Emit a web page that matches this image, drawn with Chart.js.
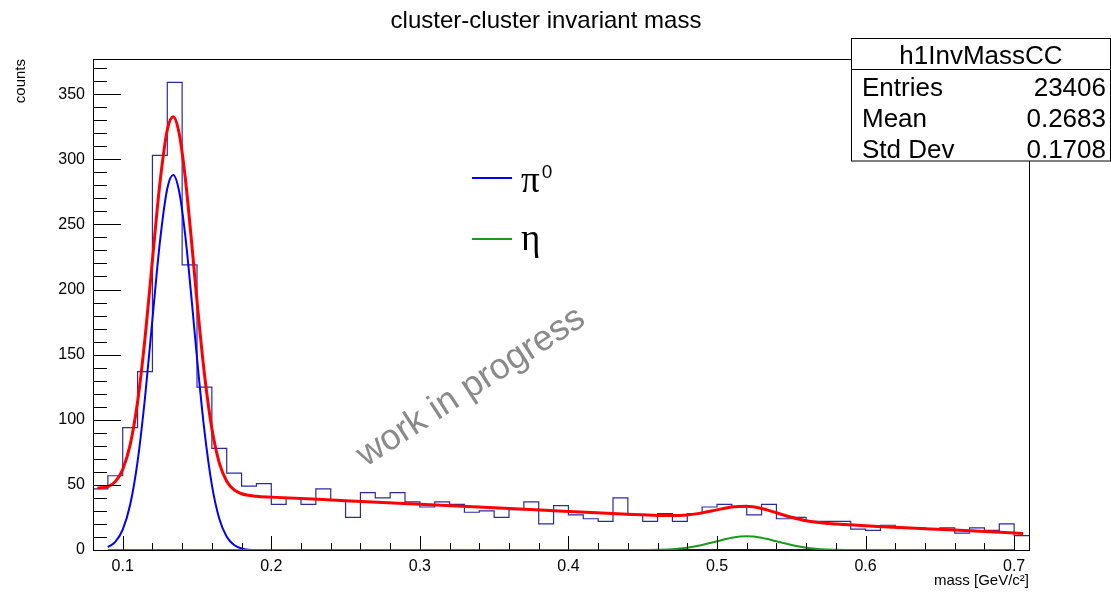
<!DOCTYPE html>
<html>
<head>
<meta charset="utf-8">
<script src="https://cdn.jsdelivr.net/npm/chart.js@4/dist/chart.umd.min.js"></script>
<style>
  html, body { margin: 0; padding: 0; background: #fff; }
  #wrap { position: relative; width: 1111px; height: 597px; }
  canvas { display: block; background: #fff; }
</style>
</head>
<body>
<div id="wrap"><canvas id="chartInvMass" width="1111" height="597"></canvas></div>
<script>
// histograma h1InvMassCC (bins de 0.01 desde 0.08)
const binLow = 0.08;
const binWidth = 0.01;
const binCounts = [
  47, 57, 94, 137, 303, 359, 219, 125, 78, 59,
  49, 51, 35, 40, 35, 47, 38, 25, 44, 40,
  44, 37, 33, 37, 35, 29, 30, 25, 31, 37,
  20, 34, 27, 24, 22, 40, 27, 22, 28, 22,
  28, 33, 35, 33, 27, 35, 24, 25, 22, 22,
  22, 16, 15, 19, 17, 17, 16, 17, 13, 17,
  15, 20, 11,
];

// ajuste total (rojo)
const totalX = [0.083, 0.09, 0.095, 0.1, 0.105, 0.11, 0.115, 0.12, 0.125, 0.13, 0.134, 0.138, 0.142, 0.146, 0.15, 0.155, 0.16, 0.165, 0.17, 0.175, 0.18, 0.19, 0.2, 0.25, 0.3, 0.35, 0.4, 0.44, 0.46, 0.47, 0.48, 0.49, 0.5, 0.51, 0.52, 0.53, 0.54, 0.55, 0.56, 0.57, 0.58, 0.62, 0.66, 0.706];
const totalY = [47.7, 48.7, 52.5, 61.8, 80.7, 113.7, 162.5, 222.5, 281.3, 322.5, 332.7, 319.8, 286.8, 241, 191.2, 135.1, 93.2, 66.9, 52.8, 46.1, 43.2, 41.3, 40.6, 37.9, 35.1, 32.4, 29.6, 27.4, 26.5, 26.4, 26.9, 28.5, 30.8, 33.0, 33.5, 31.9, 28.6, 25.2, 22.5, 20.9, 19.9, 17.5, 15.3, 12.7];

// pi0 (azul)
const pi0X = [0.09, 0.095, 0.1, 0.105, 0.11, 0.115, 0.12, 0.125, 0.13, 0.134, 0.138, 0.142, 0.146, 0.15, 0.155, 0.16, 0.165, 0.17, 0.175, 0.18, 0.19, 0.58];
const pi0Y = [2.2, 6.2, 15.6, 34.7, 67.9, 116.9, 177.1, 236.2, 277.6, 288, 275.3, 242.5, 197, 147.4, 91.6, 50, 24, 10.2, 3.8, 1.2, 0, 0];

// eta (verde)
const etaX = [0.09, 0.45, 0.46, 0.47, 0.48, 0.49, 0.5, 0.51, 0.52, 0.53, 0.54, 0.55, 0.56, 0.57, 0.58, 0.59, 0.7];
const etaY = [0, 0, 0.2, 0.6, 1.7, 3.8, 6.7, 9.4, 10.5, 9.4, 6.7, 3.8, 1.7, 0.6, 0.2, 0, 0];

// ejes
const xMajorTicks = [0.1, 0.2, 0.3, 0.4, 0.5, 0.6, 0.7];
const xTickLabels = ["0.1", "0.2", "0.3", "0.4", "0.5", "0.6", "0.7"];
const xMinorTicks = [0.08, 0.12, 0.14, 0.16, 0.18, 0.22, 0.24, 0.26, 0.28, 0.32, 0.34, 0.36, 0.38, 0.42, 0.44, 0.46, 0.48, 0.52, 0.54, 0.56, 0.58, 0.62, 0.64, 0.66, 0.68];
const yMajorTicks = [0, 50, 100, 150, 200, 250, 300, 350];
const yTickLabels = ["0", "50", "100", "150", "200", "250", "300", "350"];
const yMinorTicks = [10, 20, 30, 40, 60, 70, 80, 90, 110, 120, 130, 140, 160, 170, 180, 190, 210, 220, 230, 240, 260, 270, 280, 290, 310, 320, 330, 340, 360, 370];

// caja de estadisticas
const statsTitle = "h1InvMassCC";
const statsNames = ["Entries", "Mean", "Std Dev"];
const statsValues = ["23406", "0.2683", "0.1708"];

const SANS = "'Liberation Sans', Arial, Helvetica, sans-serif";
const SERIF = "'Liberation Serif', 'Times New Roman', serif";

const toXY = (xs, ys) => xs.map((x, i) => ({ x: x, y: ys[i] }));

const histPoints = binCounts.map((c, i) => ({ x: binLow + i * binWidth, y: c }));
histPoints.push({ x: binLow + binCounts.length * binWidth, y: binCounts[binCounts.length - 1] });

const rootStyle = {
  id: "rootStyle",
  afterDatasetsDraw(chart) {
    const { ctx, chartArea: a, scales } = chart;
    const xs = scales.x, ys = scales.y;
    ctx.save();
    ctx.strokeStyle = "#000";
    ctx.lineWidth = 1;
    // marco
    ctx.strokeRect(Math.round(a.left) + 0.5, Math.round(a.top) + 0.5,
      Math.round(a.right - a.left), Math.round(a.bottom - a.top));
    // ticks hacia adentro
    ctx.beginPath();
    yMajorTicks.forEach((v) => {
      const py = Math.round(ys.getPixelForValue(v)) + 0.5;
      ctx.moveTo(a.left, py); ctx.lineTo(a.left + 28, py);
    });
    yMinorTicks.forEach((v) => {
      const py = Math.round(ys.getPixelForValue(v)) + 0.5;
      ctx.moveTo(a.left, py); ctx.lineTo(a.left + 14, py);
    });
    xMajorTicks.forEach((v) => {
      const px = Math.round(xs.getPixelForValue(v)) + 0.5;
      ctx.moveTo(px, a.bottom); ctx.lineTo(px, a.bottom - 14);
    });
    xMinorTicks.forEach((v) => {
      const px = Math.round(xs.getPixelForValue(v)) + 0.5;
      ctx.moveTo(px, a.bottom); ctx.lineTo(px, a.bottom - 7);
    });
    ctx.stroke();
    ctx.restore();
  },
  afterDraw(chart) {
    const { ctx } = chart;
    ctx.save();

    // titulo
    ctx.fillStyle = "#000";
    ctx.font = "24px " + SANS;
    ctx.textAlign = "center";
    ctx.textBaseline = "alphabetic";
    ctx.fillText("cluster-cluster invariant mass", 546, 28);

    // marca de agua
    ctx.save();
    ctx.translate(471, 387);
    ctx.rotate(-33 * Math.PI / 180);
    ctx.fillStyle = "#8a8a8a";
    ctx.font = "36px " + SANS;
    ctx.textAlign = "center";
    ctx.textBaseline = "middle";
    ctx.fillText("work in progress", 0, 0);
    ctx.restore();

    // leyenda
    ctx.lineWidth = 2;
    ctx.strokeStyle = "#0000ff";
    ctx.beginPath(); ctx.moveTo(472, 178); ctx.lineTo(512, 178); ctx.stroke();
    ctx.strokeStyle = "#1a9a1a";
    ctx.beginPath(); ctx.moveTo(472, 239); ctx.lineTo(512, 239); ctx.stroke();
    ctx.fillStyle = "#000";
    ctx.textAlign = "left";
    ctx.font = "37px " + SERIF;
    ctx.fillText("π", 521, 192);
    const piW = ctx.measureText("π").width;
    ctx.fillText("η", 521, 250);
    ctx.font = "19px " + SANS;
    ctx.fillText("0", 521 + piW + 2, 178);

    // caja stats
    ctx.fillStyle = "#fff";
    ctx.fillRect(851.5, 38.5, 259, 122.5);
    ctx.strokeStyle = "#000";
    ctx.lineWidth = 1;
    ctx.strokeRect(851.5, 38.5, 259, 122.5);
    ctx.beginPath(); ctx.moveTo(851.5, 69.5); ctx.lineTo(1110.5, 69.5); ctx.stroke();
    ctx.fillStyle = "#000";
    ctx.font = "26px " + SANS;
    ctx.textAlign = "center";
    ctx.fillText(statsTitle, 981, 64);
    const base = [96, 127, 158];
    statsNames.forEach((n, i) => {
      ctx.textAlign = "left";
      ctx.fillText(n, 862, base[i]);
      ctx.textAlign = "right";
      ctx.fillText(statsValues[i], 1106, base[i]);
    });
    ctx.restore();
  },
};

new Chart(document.getElementById("chartInvMass"), {
  type: "line",
  data: {
    datasets: [
      {
        label: "eta",
        data: toXY(etaX, etaY),
        borderColor: "#1a9a1a",
        borderWidth: 2,
        pointRadius: 0,
        cubicInterpolationMode: "monotone",
        clip: false,
      },
      {
        label: "total",
        data: toXY(totalX, totalY),
        borderColor: "#ff0000",
        borderWidth: 3,
        pointRadius: 0,
        cubicInterpolationMode: "monotone",
        clip: false,
      },
      {
        label: "pi0",
        data: toXY(pi0X, pi0Y),
        borderColor: "#0000ff",
        borderWidth: 2,
        pointRadius: 0,
        cubicInterpolationMode: "monotone",
        clip: false,
      },
      {
        label: "h1InvMassCC",
        data: histPoints,
        borderColor: "#2a2aa6",
        borderWidth: 1.2,
        pointRadius: 0,
        stepped: "before",
        clip: false,
      },
    ],
  },
  options: {
    responsive: false,
    animation: false,
    layout: { padding: { top: 59, right: 82, left: 0, bottom: 0 } },
    plugins: {
      legend: { display: false },
      tooltip: { enabled: false },
    },
    scales: {
      x: {
        type: "linear",
        min: 0.08,
        max: 0.71,
        grid: { display: false, drawTicks: false },
        border: { display: false },
        afterBuildTicks: (axis) => { axis.ticks = xMajorTicks.map((v) => ({ value: v })); },
        afterFit: (scale) => { scale.height = 47; },
        ticks: {
          color: "#000",
          font: { size: 16, family: SANS },
          padding: 7,
          maxRotation: 0,
          autoSkip: false,
          callback: (v, i) => xTickLabels[i],
        },
        title: {
          display: true,
          text: "mass [GeV/c²]",
          align: "end",
          color: "#000",
          font: { size: 15, family: SANS },
          padding: { top: 0, bottom: 7 },
        },
      },
      y: {
        min: 0,
        max: 377,
        grid: { display: false, drawTicks: false },
        border: { display: false },
        afterBuildTicks: (axis) => { axis.ticks = yMajorTicks.map((v) => ({ value: v })); },
        afterFit: (scale) => { scale.width = 93; },
        ticks: {
          color: "#000",
          font: { size: 16, family: SANS },
          padding: 8,
          autoSkip: false,
          callback: (v, i) => yTickLabels[i],
        },
        title: {
          display: true,
          text: "counts",
          align: "end",
          color: "#000",
          font: { size: 15, family: SANS },
          padding: { top: 12, bottom: 0 },
        },
      },
    },
  },
  plugins: [rootStyle],
});
</script>
</body>
</html>
